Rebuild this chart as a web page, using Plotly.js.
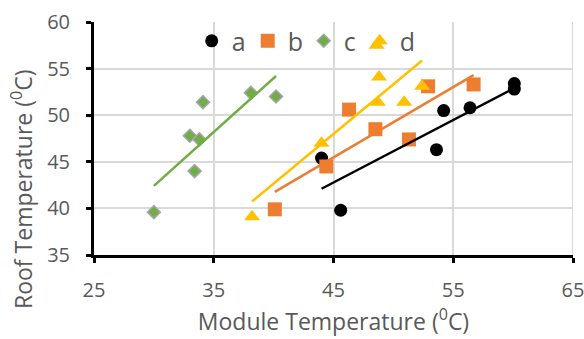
<!DOCTYPE html>
<html>
<head>
<meta charset="utf-8">
<script src="https://cdn.plot.ly/plotly-3.0.1.min.js"></script>
<style>html,body{margin:0;padding:0;background:#fff}#chart{width:584px;height:339px}</style>
</head>
<body>
<div id="chart"></div>
<script>
const seriesNames = ['a', 'b', 'c', 'd'];
const aX = [44.0, 45.6, 53.6, 54.2, 56.4, 60.1, 60.1];
const aY = [45.4, 39.8, 46.3, 50.5, 50.8, 53.4, 52.8];
const bX = [40.1, 44.4, 46.3, 48.5, 51.3, 52.9, 56.7];
const bY = [39.9, 44.5, 50.6, 48.5, 47.4, 53.1, 53.3];
const cX = [30.0, 33.0, 33.4, 33.8, 34.1, 38.1, 40.2];
const cY = [39.6, 47.8, 44.0, 47.4, 51.4, 52.4, 52.0];
const dX = [38.2, 44.0, 48.6, 48.7, 48.8, 50.9, 52.4];
const dY = [39.1, 47.0, 57.5, 51.4, 54.1, 51.4, 53.1];
const xTicks = [25, 35, 45, 55, 65];
const yTicks = [35, 40, 45, 50, 55, 60];

const colors = ['#000000', '#ed7d31', '#70ad47', '#ffc000'];
const symbols = ['circle', 'square', 'diamond', 'triangle-up'];
const sizes = [13, 14, 10, 14];
const xs = [aX, bX, cX, dX];
const ys = [aY, bY, cY, dY];

function linFit(x, y) {
  const n = x.length;
  const mx = x.reduce((s, v) => s + v, 0) / n;
  const my = y.reduce((s, v) => s + v, 0) / n;
  let sxy = 0, sxx = 0;
  for (let i = 0; i < n; i++) { sxy += (x[i] - mx) * (y[i] - my); sxx += (x[i] - mx) ** 2; }
  const m = sxy / sxx, b = my - m * mx;
  const x0 = Math.min(...x), x1 = Math.max(...x);
  return { x: [x0, x1], y: [m * x0 + b, m * x1 + b] };
}

const traces = [];
for (let i = 0; i < 4; i++) {
  traces.push({
    x: xs[i], y: ys[i], name: seriesNames[i], type: 'scatter', mode: 'markers',
    marker: { color: colors[i], symbol: symbols[i], size: sizes[i],
      line: i === 2 ? { color: '#a5a5a5', width: 1.5 } : { width: 0 } },
    cliponaxis: false
  });
}
for (let i = 0; i < 4; i++) {
  const f = linFit(xs[i], ys[i]);
  traces.push({
    x: f.x, y: f.y, type: 'scatter', mode: 'lines', showlegend: false, hoverinfo: 'skip',
    line: { color: colors[i], width: 2.5 }
  });
}

const tickFont = { family: 'Open Sans, sans-serif', size: 20, color: '#595959' };
const titleFont = { family: 'Open Sans, sans-serif', size: 23, color: '#595959' };
const layout = {
  width: 584, height: 339,
  margin: { l: 94, r: 11, t: 22, b: 84 },
  paper_bgcolor: '#ffffff', plot_bgcolor: '#ffffff',
  showlegend: true,
  legend: {
    orientation: 'h', x: 0.204, xanchor: 'left', y: 1.017, yanchor: 'top',
    font: { family: 'Open Sans, sans-serif', size: 25, color: '#595959' },
    bgcolor: 'rgba(0,0,0,0)', entrywidth: 11, entrywidthmode: 'pixels',
    traceorder: 'normal'
  },
  xaxis: {
    range: [25, 65], tickvals: xTicks, ticktext: xTicks.map(String),
    showline: true, linecolor: '#000000', linewidth: 3,
    ticks: 'outside', ticklen: 5, tickwidth: 3, tickcolor: '#000000',
    showgrid: true, gridcolor: '#d9d9d9', gridwidth: 2, zeroline: false,
    tickfont: tickFont, ticklabelstandoff: 10, ticklabeloverflow: 'allow',
    title: { text: 'Module Temperature (<sup>0</sup>C)', font: titleFont, standoff: 12 }
  },
  yaxis: {
    range: [35, 60], tickvals: yTicks, ticktext: yTicks.map(String),
    showline: true, linecolor: '#000000', linewidth: 3,
    ticks: 'outside', ticklen: 5, tickwidth: 3, tickcolor: '#000000',
    showgrid: true, gridcolor: '#d9d9d9', gridwidth: 2, zeroline: false,
    tickfont: tickFont, ticklabelstandoff: 12, ticklabeloverflow: 'allow'
  },
  shapes: [{
    type: 'line', xref: 'x', yref: 'paper', x0: 65, x1: 65, y0: 0, y1: 1,
    line: { color: '#d9d9d9', width: 2 }, layer: 'below'
  }],
  annotations: [{
    text: 'Roof Temperature (<sup>0</sup>C)', textangle: -90,
    xref: 'paper', yref: 'paper', x: (22 - 94) / 479, y: (255 - 190) / 233,
    xanchor: 'center', yanchor: 'middle', showarrow: false,
    font: titleFont
  }]
};

Plotly.newPlot('chart', traces, layout, { staticPlot: true, displayModeBar: false });
</script>
</body>
</html>
